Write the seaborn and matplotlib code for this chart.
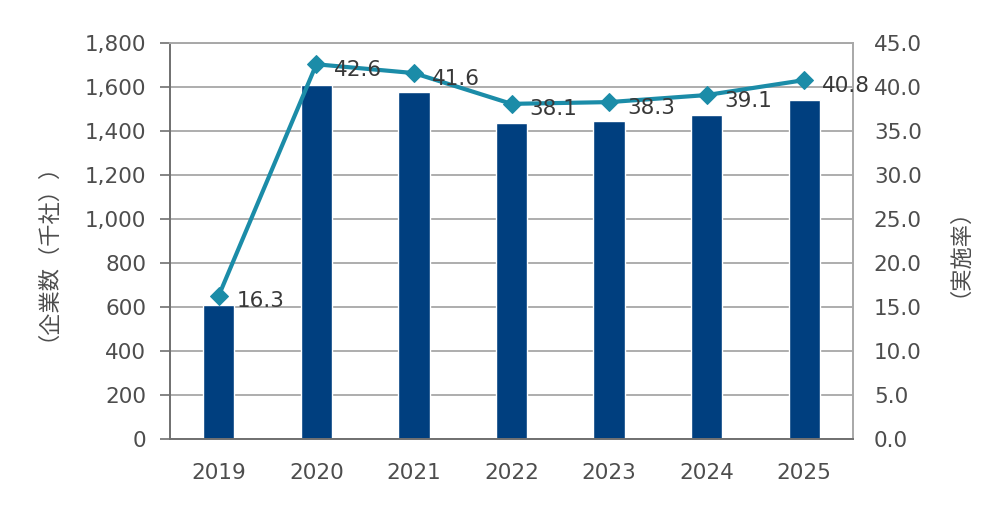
import numpy as np
import pandas as pd
import seaborn as sns
import matplotlib
matplotlib.use("Agg")
import matplotlib.pyplot as plt

# data
years = ["2019", "2020", "2021", "2022", "2023", "2024", "2025"]
companies = [610, 1612, 1578, 1438, 1447, 1474, 1540]   # 企業数（千社）
rate = [16.3, 42.6, 41.6, 38.1, 38.3, 39.1, 40.8]       # 実施率

left_ticks = list(range(0, 2000, 200))
right_ticks = [0, 5, 10, 15, 20, 25, 30, 35, 40, 45]

bar_color = "#003f7f"
line_color = "#1b8ca8"
tick_color = "#4d4d4d"
grid_color = "#a0a0a0"

sns.set_style("white")
plt.rcParams['font.family'] = ['DejaVu Sans', 'Noto Sans CJK JP']

df = pd.DataFrame({"year": years, "companies": companies, "rate": rate})
df["pos"] = np.arange(len(df))

fig = plt.figure(figsize=(10, 5.08), dpi=100)
ax = fig.add_axes([0.17, 0.136, 0.683, 0.779])

sns.barplot(data=df, x="year", y="companies", color=bar_color,
            width=0.32, saturation=1, ax=ax, zorder=2)
ax.set_ylim(0, 1800)
ax.set_xlim(-0.5, len(years) - 0.5)
ax.set_yticks(left_ticks)
ax.set_yticklabels([f"{v:,}" for v in left_ticks])
ax.yaxis.grid(True, color=grid_color, linewidth=1.2, zorder=0)
ax.set_axisbelow(True)
ax.set_xticks(np.arange(len(years) + 1) - 0.5, minor=True)
ax.tick_params(axis="x", which="major", length=0, pad=17)
ax.tick_params(axis="x", which="minor", length=7, color="#707070", width=1.2)
ax.tick_params(axis="y", length=7, color="#707070", width=1.2, pad=10)
ax.tick_params(labelsize=15.5, labelcolor=tick_color)
ax.set_xlabel("")
ax.set_ylabel("（企業数（千社））", fontsize=16, color=tick_color,
              family=['Noto Sans CJK JP', 'DejaVu Sans'])
ax.yaxis.set_label_coords(-0.18, 0.5)
for s in ax.spines.values():
    s.set_color("#a8a8a8")
    s.set_linewidth(1.4)
ax.spines["bottom"].set_color("#707070")
ax.spines["left"].set_color("#707070")

ax2 = ax.twinx()
sns.lineplot(data=df, x="pos", y="rate", ax=ax2, color=line_color,
             linewidth=3, marker="D", markersize=9,
             markeredgecolor=line_color, zorder=3)
ax2.set_ylim(0, 45)
ax2.set_xlim(-0.5, len(years) - 0.5)
ax2.set_yticks(right_ticks)
ax2.set_yticklabels([f"{v:.1f}" for v in right_ticks])
ax2.tick_params(axis="y", length=0, labelsize=15.5, labelcolor=tick_color, pad=15)
ax2.set_ylabel("（実施率）", fontsize=16, color=tick_color,
               family=['Noto Sans CJK JP', 'DejaVu Sans'], rotation=90)
ax2.yaxis.set_label_coords(1.122, 0.5)
ax2.set_xlabel("")
for s in ax2.spines.values():
    s.set_visible(False)

for p, r in zip(df["pos"], df["rate"]):
    ax2.annotate(f"{r:.1f}", (p, r), xytext=(13, -4), textcoords="offset points",
                 ha="left", va="center", fontsize=15.5, color="#383838")

fig.savefig("out.png", dpi=100)
